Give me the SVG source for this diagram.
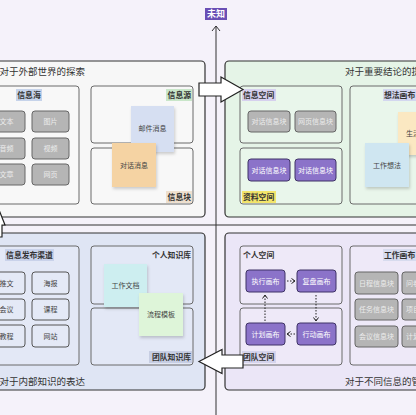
<svg xmlns="http://www.w3.org/2000/svg" width="416" height="415" viewBox="0 0 416 415">
<defs>
<style>
text{font-family:"Noto Sans CJK SC","Noto Sans",sans-serif;}
.outer{stroke:#333;stroke-width:1.2;}
.inner{stroke:#6a6a6a;stroke-width:1;}
.title{font-size:9.5px;fill:#333;}
.lbl{font-size:7.8px;font-weight:bold;fill:#333;}
.cell{font-size:7px;text-anchor:middle;}
.gcell{fill:#b5b5b5;stroke:#666;stroke-width:1;}
.gtxt{fill:#ececec;}
.pcell{fill:#8b73c9;stroke:#3f3366;stroke-width:1;}
.ptxt{fill:#fff;}
.bcell{fill:#e4e9f6;stroke:#555;stroke-width:1;}
.btxt{fill:#444;}
.sticky{filter:url(#sh);}
.stxt{font-size:7px;fill:#444;text-anchor:middle;}
.blk{fill:#fff;stroke:#222;stroke-width:1.2;stroke-linejoin:miter;}
.dot{fill:none;stroke:#222;stroke-width:1;stroke-dasharray:1.5 1.5;}
</style>
<filter id="sh" x="-20%" y="-20%" width="150%" height="150%">
<feDropShadow dx="1" dy="2" stdDeviation="1.5" flood-color="#000" flood-opacity="0.18"/>
</filter>
<marker id="ah" markerWidth="6" markerHeight="6" refX="4" refY="3" orient="auto" markerUnits="userSpaceOnUse">
<path d="M0.5,0.5 L4,3 L0.5,5.5" fill="none" stroke="#222" stroke-width="1"/>
</marker>
</defs>
<rect width="416" height="415" fill="#f5f2fa"/>

<g id="axes">
<line x1="216" y1="26" x2="216" y2="415" stroke="#333" stroke-width="1"/>
<polyline points="212,31 216,26 220,31" fill="none" stroke="#333" stroke-width="1"/>
<line x1="0" y1="225" x2="416" y2="225" stroke="#333" stroke-width="1"/>
</g>

<g id="label-unknown">
<rect x="205" y="8" width="22" height="12" fill="#6a4fb5"/>
<text x="216" y="17.2" font-size="9" font-weight="bold" fill="#fff" text-anchor="middle">未知</text>
</g>

<!-- Top-left quadrant -->
<g id="q-explore">
<rect class="outer" x="-10" y="61" width="215" height="156" rx="4" fill="#f7f7f7"/>
<text class="title" x="-0.5" y="75">对于外部世界的探索</text>
</g>
<g id="info-sea">
<rect class="inner" x="-10" y="86" width="89" height="118" rx="3" fill="#f8f8f8"/>
<rect x="16" y="89" width="26" height="12" fill="#c6d3ea"/>
<text class="lbl" x="29" y="98" text-anchor="middle">信息海</text>
<rect class="gcell" x="-12" y="111" width="37" height="21" rx="3"/>
<text class="cell gtxt" x="6.5" y="124">文本</text>
<rect class="gcell" x="32" y="111" width="37" height="21" rx="3"/>
<text class="cell gtxt" x="50.5" y="124">图片</text>
<rect class="gcell" x="-12" y="138" width="37" height="21" rx="3"/>
<text class="cell gtxt" x="6.5" y="151">音频</text>
<rect class="gcell" x="32" y="138" width="37" height="21" rx="3"/>
<text class="cell gtxt" x="50.5" y="151">视频</text>
<rect class="gcell" x="-12" y="164" width="37" height="21" rx="3"/>
<text class="cell gtxt" x="6.5" y="177">文章</text>
<rect class="gcell" x="32" y="164" width="37" height="21" rx="3"/>
<text class="cell gtxt" x="50.5" y="177">网页</text>
</g>
<g id="info-source">
<rect class="inner" x="91" y="86" width="102" height="57" rx="3" fill="#f8f8f8"/>
<rect x="166" y="89" width="26" height="12" fill="#c9e6c9"/>
<text class="lbl" x="191" y="98" text-anchor="end">信息源</text>
</g>
<g id="info-block">
<rect class="inner" x="91" y="148" width="102" height="56" rx="3" fill="#f8f8f8"/>
<rect x="166" y="191" width="26" height="12" fill="#eee0cf"/>
<text class="lbl" x="191" y="200" text-anchor="end">信息块</text>
</g>
<g id="note-mail">
<rect class="sticky" x="131" y="106" width="43" height="46" fill="#d6dff2"/>
<text class="stxt" x="152.5" y="131">邮件消息</text>
</g>
<g id="note-chat">
<rect class="sticky" x="112" y="143" width="44" height="44" fill="#f5d3a3"/>
<text class="stxt" x="134" y="167.5">对话消息</text>
</g>

<!-- Top-right quadrant -->
<g id="q-conclusion">
<rect class="outer" x="225" y="61" width="200" height="156" rx="4" fill="#e5f4e7"/>
<text class="title" x="345" y="75">对于重要结论的提炼</text>
</g>
<g id="info-space">
<rect class="inner" x="240" y="86" width="102" height="57" rx="3" fill="#e9f6eb"/>
<rect x="242" y="89" width="34" height="12" fill="#d6d0ee"/>
<text class="lbl" x="243" y="98">信息空间</text>
<rect class="gcell" x="248" y="111" width="42" height="21" rx="3"/>
<text class="cell gtxt" x="269" y="124">对话信息块</text>
<rect class="gcell" x="295" y="111" width="41" height="21" rx="3"/>
<text class="cell gtxt" x="315.5" y="124">网页信息块</text>
</g>
<g id="material-space">
<rect class="inner" x="240" y="148" width="102" height="56" rx="3" fill="#e9f6eb"/>
<rect class="pcell" x="248" y="159" width="42" height="22" rx="3"/>
<text class="cell ptxt" x="269" y="172.5">对话信息块</text>
<rect class="pcell" x="295" y="159" width="41" height="22" rx="3"/>
<text class="cell ptxt" x="315.5" y="172.5">对话信息块</text>
<rect x="242" y="191" width="34" height="12" fill="#f3e56b"/>
<text class="lbl" x="243" y="200">资料空间</text>
</g>
<g id="idea-canvas">
<rect class="inner" x="350" y="86" width="80" height="118" rx="3" fill="#e9f6eb"/>
<rect x="383" y="89" width="34" height="12" fill="#d3d7ef"/>
<text class="lbl" x="384" y="98">想法画布</text>
</g>
<g id="note-life">
<rect class="sticky" x="398" y="112" width="44" height="43" fill="#fbe8c2"/>
<text class="stxt" x="420" y="136">生活想法</text>
</g>
<g id="note-work-idea">
<rect class="sticky" x="365" y="143" width="44" height="44" fill="#cfe6f1"/>
<text class="stxt" x="387" y="167.5">工作想法</text>
</g>

<!-- Bottom-left quadrant -->
<g id="q-expression">
<rect class="outer" x="-10" y="233" width="215" height="157" rx="4" fill="#dfe5f4"/>
<text class="title" x="-0.5" y="384.5">对于内部知识的表达</text>
</g>
<g id="publish-channel">
<rect class="inner" x="-10" y="246" width="89" height="119" rx="3" fill="#e3e8f6" stroke="#555"/>
<rect x="5" y="249" width="49" height="12" fill="#c9d2ea"/>
<text class="lbl" x="29.5" y="258" text-anchor="middle">信息发布渠道</text>
<rect class="bcell" x="-12" y="272" width="37" height="22" rx="3"/>
<text class="cell btxt" x="6.5" y="285.5">推文</text>
<rect class="bcell" x="32" y="272" width="37" height="22" rx="3"/>
<text class="cell btxt" x="50.5" y="285.5">海报</text>
<rect class="bcell" x="-12" y="299" width="37" height="21" rx="3"/>
<text class="cell btxt" x="6.5" y="312">会议</text>
<rect class="bcell" x="32" y="299" width="37" height="21" rx="3"/>
<text class="cell btxt" x="50.5" y="312">课程</text>
<rect class="bcell" x="-12" y="325" width="37" height="22" rx="3"/>
<text class="cell btxt" x="6.5" y="338.5">教程</text>
<rect class="bcell" x="32" y="325" width="37" height="22" rx="3"/>
<text class="cell btxt" x="50.5" y="338.5">网站</text>
</g>
<g id="personal-kb">
<rect class="inner" x="91" y="246" width="102" height="58" rx="3" fill="#e3e8f6" stroke="#555"/>
<text class="lbl" x="191" y="258" text-anchor="end">个人知识库</text>
</g>
<g id="team-kb">
<rect class="inner" x="91" y="308" width="102" height="57" rx="3" fill="#e3e8f6" stroke="#555"/>
<rect x="149" y="351" width="43" height="12" fill="#c7cee3"/>
<text class="lbl" x="191" y="360" text-anchor="end">团队知识库</text>
</g>
<g id="note-workdoc">
<rect class="sticky" x="104" y="264" width="43" height="43" fill="#cdeef0"/>
<text class="stxt" x="125.5" y="288">工作文档</text>
</g>
<g id="note-process">
<rect class="sticky" x="139" y="293" width="44" height="43" fill="#def5d9"/>
<text class="stxt" x="161" y="317">流程模板</text>
</g>

<!-- Bottom-right quadrant -->
<g id="q-info">
<rect class="outer" x="225" y="233" width="200" height="157" rx="4" fill="#ebe6f7"/>
<text class="title" x="345" y="384.5">对于不同信息的管理</text>
</g>
<g id="personal-space">
<rect class="inner" x="240" y="246" width="102" height="58" rx="3" fill="#eee9f8"/>
<text class="lbl" x="243" y="258">个人空间</text>
</g>
<g id="team-space">
<rect class="inner" x="240" y="308" width="102" height="57" rx="3" fill="#eee9f8"/>
<rect x="242" y="351" width="34" height="12" fill="#d5d4ec"/>
<text class="lbl" x="243" y="360">团队空间</text>
</g>
<g id="exec-canvas">
<rect class="pcell" x="246" y="270" width="39" height="22" rx="3"/>
<text class="cell ptxt" x="265.5" y="283.5">执行画布</text>
</g>
<g id="review-canvas">
<rect class="pcell" x="297" y="270" width="39" height="22" rx="3"/>
<text class="cell ptxt" x="316.5" y="283.5">复盘画布</text>
</g>
<g id="plan-canvas">
<rect class="pcell" x="246" y="323" width="39" height="22" rx="3"/>
<text class="cell ptxt" x="265.5" y="336.5">计划画布</text>
</g>
<g id="action-canvas">
<rect class="pcell" x="297" y="323" width="39" height="22" rx="3"/>
<text class="cell ptxt" x="316.5" y="336.5">行动画布</text>
</g>
<g id="work-canvas">
<rect class="inner" x="350" y="246" width="80" height="119" rx="3" fill="#eee9f8"/>
<rect x="383" y="249" width="34" height="12" fill="#d7dbee"/>
<text class="lbl" x="384" y="258">工作画布</text>
<rect class="gcell" x="355" y="272" width="43" height="22" rx="3"/>
<text class="cell gtxt" x="376.5" y="285.5">日程信息块</text>
<rect class="gcell" x="402" y="272" width="43" height="22" rx="3"/>
<text class="cell gtxt" x="423.5" y="285.5">问卷信息块</text>
<rect class="gcell" x="355" y="299" width="43" height="21" rx="3"/>
<text class="cell gtxt" x="376.5" y="312">任务信息块</text>
<rect class="gcell" x="402" y="299" width="43" height="21" rx="3"/>
<text class="cell gtxt" x="423.5" y="312">项目信息块</text>
<rect class="gcell" x="355" y="326" width="43" height="21" rx="3"/>
<text class="cell gtxt" x="376.5" y="339">会议信息块</text>
<rect class="gcell" x="402" y="326" width="43" height="21" rx="3"/>
<text class="cell gtxt" x="423.5" y="339">计划信息块</text>
</g>

<g id="connectors">
<polygon class="blk" points="199,83 221,83 221,77 243,89.5 221,102 221,96 199,96"/>
<polygon class="blk" points="199,361.5 222,349.5 222,355 243,355 243,368 222,368 222,373.5"/>
<polygon class="blk" points="-6,197 5,225 2,225 2,237 -14,237 -14,225 -17,225"/>
<line class="dot" x1="287" y1="281" x2="295" y2="281" marker-end="url(#ah)"/>
<line class="dot" x1="316" y1="295" x2="316" y2="321" marker-end="url(#ah)"/>
<line class="dot" x1="295" y1="334" x2="287" y2="334" marker-end="url(#ah)"/>
<line class="dot" x1="265" y1="321" x2="265" y2="295" marker-end="url(#ah)"/>
</g>
</svg>
